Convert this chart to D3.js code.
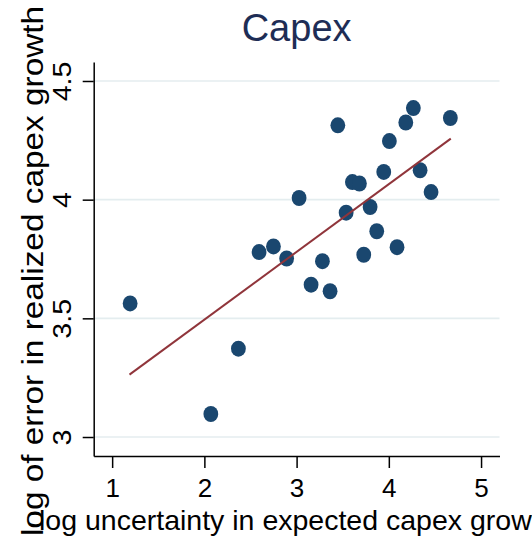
<!DOCTYPE html>
<html>
<head>
<meta charset="utf-8">
<script src="https://cdn.jsdelivr.net/npm/d3@7"></script>
<style>
  html, body { margin: 0; padding: 0; background: #ffffff; }
  svg { display: block; font-family: "Liberation Sans", Arial, Helvetica, sans-serif; }
</style>
</head>
<body>
<svg id="chart" width="532" height="539"></svg>
<script>
// Log uncertainty in expected capex growth vs. log error in realized growth
const uncertainty = [1.195, 2.070, 2.369, 2.593, 2.749, 2.892, 3.027, 3.157, 3.280, 3.363,
                     3.447, 3.537, 3.605, 3.681, 3.728, 3.797, 3.869, 3.945, 4.006, 4.089,
                     4.184, 4.266, 4.339, 4.458, 4.667];
const errorLog   = [3.563, 3.097, 3.372, 3.779, 3.803, 3.752, 4.007, 3.642, 3.741, 3.614,
                    4.313, 3.945, 4.074, 4.068, 3.768, 3.969, 3.867, 4.117, 4.247, 3.800,
                    4.325, 4.386, 4.124, 4.032, 4.344];
// linear fit, drawn across the range of the data
const fitX = [1.188, 4.672];
const fitY = [3.263, 4.257];

const xTicks = [1, 2, 3, 4, 5];
const yTicks = [3, 3.5, 4, 4.5];
const yTickLabels = ["3", "3.5", "4", "4.5"];

const titleText = "Capex";
const xTitle = "log uncertainty in expected capex growth";
const yTitle = "log of error in realized capex growth";

const svg = d3.select("#chart");
const plotLeft = 93.7, plotRight = 499.5, plotTop = 62, plotBottom = 456;

const x = d3.scaleLinear().domain([0.8, 5.2]).range([plotLeft, plotRight]);
const y = d3.scaleLinear().domain([2.92, 4.58]).range([plotBottom, plotTop]);

// horizontal grid
svg.append("g")
  .selectAll("line")
  .data(yTicks)
  .join("line")
  .attr("x1", plotLeft).attr("x2", plotRight)
  .attr("y1", d => y(d)).attr("y2", d => y(d))
  .attr("stroke", "#e4edef")
  .attr("stroke-width", 1.6);

// y axis
const yAxis = svg.append("g")
  .attr("transform", `translate(${plotLeft},0)`)
  .call(d3.axisLeft(y).tickValues(yTicks).tickSize(11).tickSizeOuter(0)
        .tickFormat((d, i) => yTickLabels[i]));
yAxis.select(".domain").attr("stroke", "#000").attr("stroke-width", 1.5);
yAxis.selectAll(".tick line").attr("stroke", "#000").attr("stroke-width", 1.5);
yAxis.selectAll(".tick text")
  .attr("x", 0).attr("y", -22.5).attr("dy", null)
  .attr("transform", "rotate(-90) scale(1.1,1)")
  .attr("text-anchor", "middle")
  .attr("font-size", 26)
  .attr("fill", "#000");

// x axis
const xAxis = svg.append("g")
  .attr("transform", `translate(0,${plotBottom})`)
  .call(d3.axisBottom(x).tickValues(xTicks).tickSize(12).tickSizeOuter(0)
        .tickFormat(d3.format("d")));
xAxis.select(".domain").attr("stroke", "#000").attr("stroke-width", 1.5);
xAxis.selectAll(".tick line").attr("stroke", "#000").attr("stroke-width", 1.5);
xAxis.selectAll(".tick text")
  .attr("y", 41).attr("dy", null)
  .attr("font-size", 26)
  .attr("fill", "#000");

// points
svg.append("g")
  .selectAll("ellipse")
  .data(uncertainty.map((u, i) => [u, errorLog[i]]))
  .join("ellipse")
  .attr("cx", d => x(d[0]))
  .attr("cy", d => y(d[1]))
  .attr("rx", 7.4)
  .attr("ry", 8)
  .attr("fill", "#1a476f");

// fitted line
svg.append("path")
  .datum(fitX.map((v, i) => [v, fitY[i]]))
  .attr("d", d3.line().x(d => x(d[0])).y(d => y(d[1])))
  .attr("fill", "none")
  .attr("stroke", "#90353b")
  .attr("stroke-width", 2);

// titles
svg.append("text")
  .attr("x", (plotLeft + plotRight) / 2).attr("y", 41)
  .attr("text-anchor", "middle")
  .attr("font-size", 38)
  .attr("fill", "#1e2d55")
  .text(titleText);

svg.append("text")
  .attr("x", 39).attr("y", 530)
  .attr("font-size", 28.5)
  .attr("fill", "#000")
  .text(xTitle);

svg.append("text")
  .attr("transform", "translate(43,271) rotate(-90) scale(1.15,1)")
  .attr("text-anchor", "middle")
  .attr("font-size", 29)
  .attr("fill", "#000")
  .text(yTitle);
</script>
</body>
</html>
